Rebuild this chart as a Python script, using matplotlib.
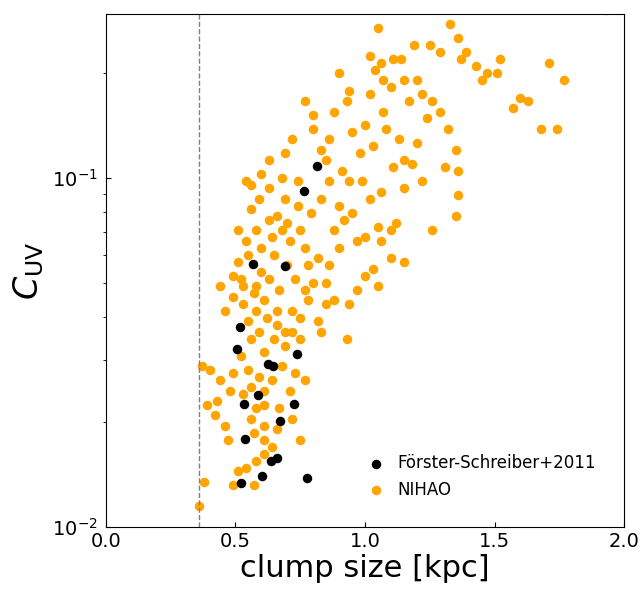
import numpy as np
import matplotlib
matplotlib.use("Agg")
import matplotlib.pyplot as plt

# Förster-Schreiber+2011 clumps
fs_size = [0.815, 0.764, 0.568, 0.691, 0.517, 0.506, 0.737, 0.625, 0.645, 0.587,
           0.533, 0.726, 0.672, 0.537, 0.660, 0.637, 0.602, 0.776, 0.521]
fs_cuv = [0.108, 0.092, 0.0568, 0.0559, 0.0374, 0.0324, 0.0313, 0.0293, 0.029, 0.0239,
          0.0225, 0.0225, 0.0201, 0.0179, 0.0158, 0.0155, 0.0140, 0.0138, 0.0134]

# NIHAO clumps: size [kpc] and log10(C_UV)
nihao_size = [1.93, 1.71, 1.77, 1.63, 1.68, 1.74, 1.57, 1.51, 1.52, 1.47, 1.43, 1.45, 1.39, 1.36,
              1.37, 1.29, 1.19, 1.14, 1.06, 1.04, 1.07, 1.10, 1.15, 1.17, 1.22, 1.26, 1.29, 1.24,
              1.32, 1.35, 1.36, 1.31, 1.36, 1.35, 1.26, 1.22, 1.18, 1.15, 1.13, 1.07, 1.02, 0.94,
              0.93, 0.88, 0.77, 0.80, 0.86, 0.95, 0.98, 1.03, 1.08, 1.11, 1.15, 1.06, 1.02, 0.99,
              0.94, 0.91, 0.86, 0.83, 0.90, 0.92, 0.97, 1.00, 1.06, 1.05, 1.12, 1.03, 1.05, 1.15,
              1.10, 0.97, 0.94, 0.88, 0.85, 0.86, 0.82, 0.77, 0.75, 0.79, 0.74, 0.69, 0.68, 0.74,
              0.69, 0.72, 0.60, 0.56, 0.63, 0.59, 0.56, 0.51, 0.54, 0.63, 0.66, 0.68, 0.71, 0.65,
              0.60, 0.55, 0.51, 0.49, 0.44, 0.53, 0.58, 0.63, 0.67, 0.73, 0.77, 0.78, 0.75, 0.72,
              0.69, 0.66, 0.61, 0.58, 0.53, 0.49, 0.55, 0.59, 0.65, 0.69, 0.75, 0.83, 0.93, 0.85,
              0.82, 0.61, 0.56, 0.52, 0.55, 0.59, 0.64, 0.68, 0.73, 0.77, 0.71, 0.61, 0.56, 0.49,
              0.48, 0.44, 0.40, 0.37, 0.39, 0.43, 0.53, 0.58, 0.61, 0.67, 0.72, 0.61, 0.56, 0.57,
              0.61, 0.64, 0.61, 0.58, 0.51, 0.54, 0.49, 0.36, 0.42, 0.46, 0.47, 0.38, 0.75, 0.66,
              0.57, 0.54, 0.63, 0.83, 0.85, 0.80, 0.90, 1.02, 1.05, 1.11, 1.20, 1.25, 1.33, 1.60,
              0.60, 0.70, 0.78, 0.62, 0.66, 0.72, 0.80, 0.90, 0.95, 1.00, 1.10, 0.57, 0.64, 0.58,
              0.52, 0.46, 0.70, 0.88, 1.20, 1.00]
nihao_logc = [-0.52, -0.67, -0.72, -0.78, -0.86, -0.86, -0.80, -0.70, -0.66, -0.70, -0.68, -0.72,
              -0.64, -0.60, -0.66, -0.64, -0.62, -0.66, -0.67, -0.69, -0.72, -0.74, -0.72, -0.78,
              -0.76, -0.78, -0.81, -0.83, -0.86, -0.92, -0.98, -0.97, -1.05, -1.11, -1.15, -1.01,
              -0.96, -0.95, -0.89, -0.81, -0.76, -0.75, -0.78, -0.81, -0.78, -0.86, -0.89, -0.87,
              -0.93, -0.91, -0.86, -0.97, -1.03, -1.04, -1.06, -1.01, -1.01, -0.98, -1.01, -1.06,
              -1.08, -1.12, -1.18, -1.17, -1.18, -1.14, -1.13, -1.26, -1.31, -1.24, -1.23, -1.32,
              -1.36, -1.35, -1.30, -1.25, -1.23, -1.20, -1.15, -1.10, -1.08, -1.06, -1.00, -1.01,
              -0.93, -0.89, -0.99, -1.02, -1.03, -1.06, -1.09, -1.15, -1.18, -1.12, -1.11, -1.15,
              -1.18, -1.22, -1.20, -1.22, -1.24, -1.28, -1.31, -1.31, -1.31, -1.29, -1.32, -1.29,
              -1.32, -1.35, -1.40, -1.44, -1.44, -1.38, -1.35, -1.38, -1.36, -1.34, -1.41, -1.44,
              -1.46, -1.48, -1.46, -1.44, -1.46, -1.36, -1.41, -1.50, -1.46, -1.51, -1.55, -1.57,
              -1.58, -1.54, -1.56, -1.58, -1.61, -1.61, -1.60, -1.56, -1.61, -1.58, -1.55, -1.54,
              -1.65, -1.64, -1.62, -1.66, -1.65, -1.66, -1.69, -1.71, -1.69, -1.73, -1.75, -1.77,
              -1.79, -1.81, -1.84, -1.83, -1.88, -1.94, -1.68, -1.71, -1.75, -1.87, -1.75, -1.72,
              -1.88, -1.01, -0.95, -0.92, -0.95, -0.82, -0.70, -0.65, -0.57, -0.66, -0.72, -0.62,
              -0.56, -0.77, -1.27, -1.25, -1.25, -1.40, -1.42, -1.38, -1.30, -1.20, -1.10, -1.28,
              -1.15, -1.33, -1.17, -1.15, -1.29, -1.38, -1.13, -1.15, -0.90, -0.85]

fig = plt.figure(figsize=(6.42, 5.99), dpi=100)
ax = fig.add_axes([0.165, 0.12, 0.807, 0.857])

ax.scatter(fs_size, fs_cuv, color="black", s=34, zorder=3, label="Förster-Schreiber+2011")
ax.scatter(nihao_size, 10 ** np.array(nihao_logc), color="orange", s=34, zorder=2, label="NIHAO")
ax.axvline(0.36, color="gray", ls="--", lw=1)

ax.set_yscale("log")
ax.set_xlim(0, 2)
ax.set_ylim(0.01, 0.295)
ax.set_xticks([0.0, 0.5, 1.0, 1.5, 2.0])
ax.tick_params(labelsize=14, direction="in")
ax.tick_params(axis="y", pad=6)
ax.set_xlabel("clump size [kpc]", fontsize=22, labelpad=2)
ax.set_ylabel(r"$C_{\rm UV}$", fontsize=24)
ax.legend(loc="lower right", frameon=False, fontsize=12, handletextpad=0.3, borderpad=1.2)

plt.savefig("out.png", dpi=100)
